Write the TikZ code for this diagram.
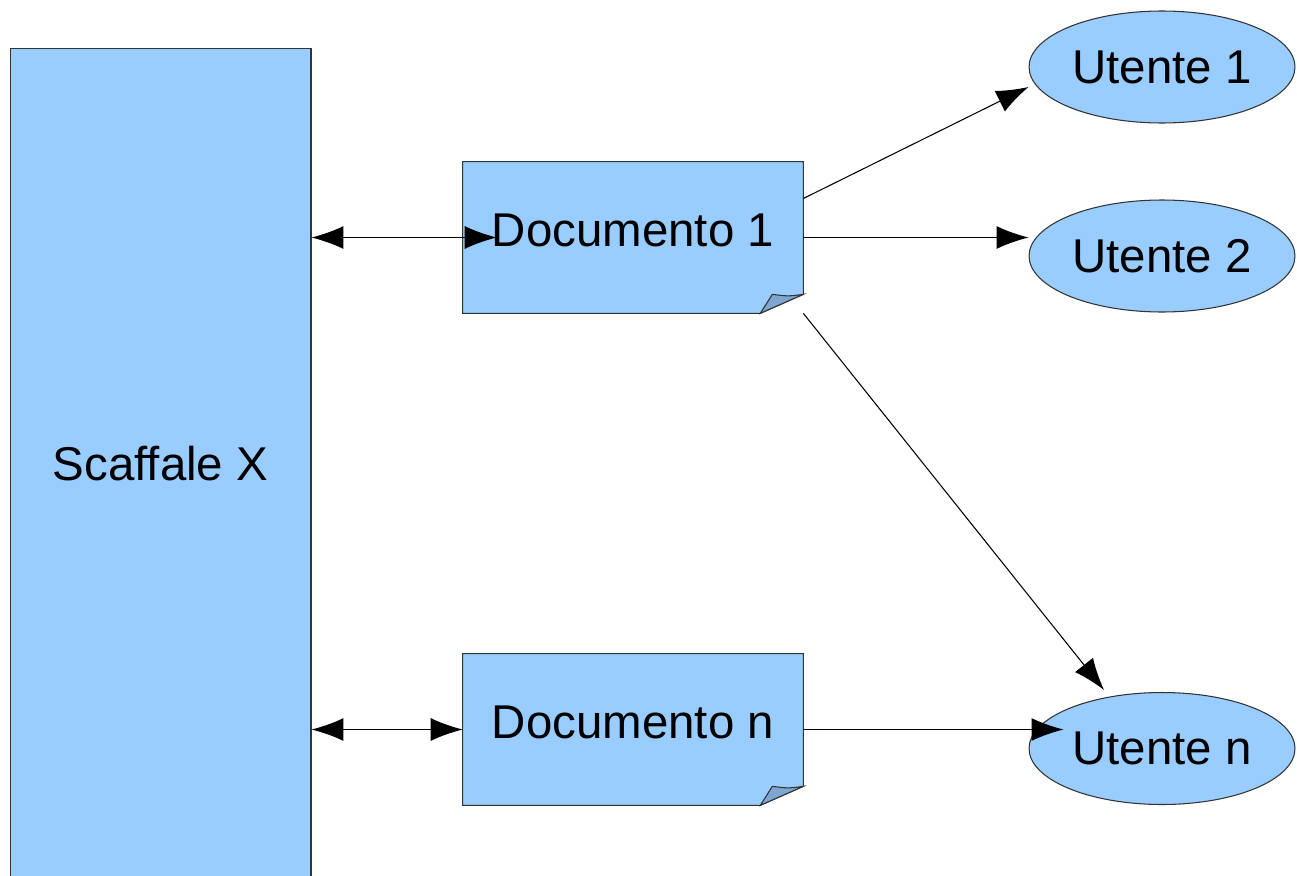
\documentclass[tikz,border=0pt]{standalone}
\usepackage{fontspec}
\setmainfont{Liberation Sans}
\usetikzlibrary{shapes.geometric,arrows.meta,backgrounds}
\definecolor{docblue}{RGB}{153,204,255}
\definecolor{foldblue}{RGB}{125,167,208}

\begin{document}
\begin{tikzpicture}[x=0.02cm,y=-0.02cm,inner sep=0pt,font=\fontsize{27}{32}\selectfont]
\tikzstyle{shelf}=[rectangle, fill=docblue, draw=black!80, line width=0.6pt, minimum width=6.02cm, minimum height=16.64cm]
\tikzstyle{doc}=[rectangle, text depth=8pt, minimum width=6.8cm, minimum height=3.02cm]
\tikzstyle{user}=[ellipse, fill=docblue, draw=black!80, line width=0.6pt, minimum width=5.32cm, minimum height=2.24cm]
\tikzstyle{connect}=[-{Latex[length=0.64cm,width=0.46cm]}, line width=0.6pt]
\tikzstyle{both}=[{Latex[length=0.64cm,width=0.46cm]}-{Latex[length=0.64cm,width=0.46cm]}, line width=0.6pt]
\useasboundingbox (0,0) rectangle (1297,875);
\node[shelf] (sx) at (160.5,464) {Scaffale X};
\node[doc] (d1) at (633,237.5) {Documento 1};
\node[doc] (dn) at (633,729.5) {Documento n};
\node[user] (u1) at (1162,67) {Utente 1};
\node[user] (u2) at (1162,256) {Utente 2};
\node[user] (un) at (1162,748.5) {Utente n};
\begin{pgfonlayer}{background}
\foreach \d in {d1,dn} {
  \draw[fill=docblue, draw=black!80, line width=0.6pt] (\d.north west) -- (\d.north east) -- ([yshift=0.38cm]\d.south east) -- ([xshift=-0.86cm]\d.south east) -- (\d.south west) -- cycle;
  \draw[fill=foldblue, draw=black!80, line width=0.6pt] ([xshift=-0.86cm]\d.south east) -- ([xshift=-0.62cm,yshift=0.38cm]\d.south east) .. controls ([xshift=-0.3cm,yshift=0.34cm]\d.south east) .. ([yshift=0.38cm]\d.south east) -- cycle;
}
\end{pgfonlayer}
\draw[both] (d1.west -| sx.east) -- ([xshift=0.68cm]d1.west);
\draw[both] (dn.west -| sx.east) -- (dn.west);
\draw[connect] ([yshift=0.78cm]d1.east) -- ([yshift=-0.4cm]u1.west);
\draw[connect] (d1.east) -- (d1.east -| u2.west);
\draw[connect] (d1.south east) -- ([xshift=-1.16cm,yshift=0.04cm]un.north);
\draw[connect] (dn.east) -- ([xshift=0.7cm]dn.east -| un.west);
\end{tikzpicture}
\end{document}
